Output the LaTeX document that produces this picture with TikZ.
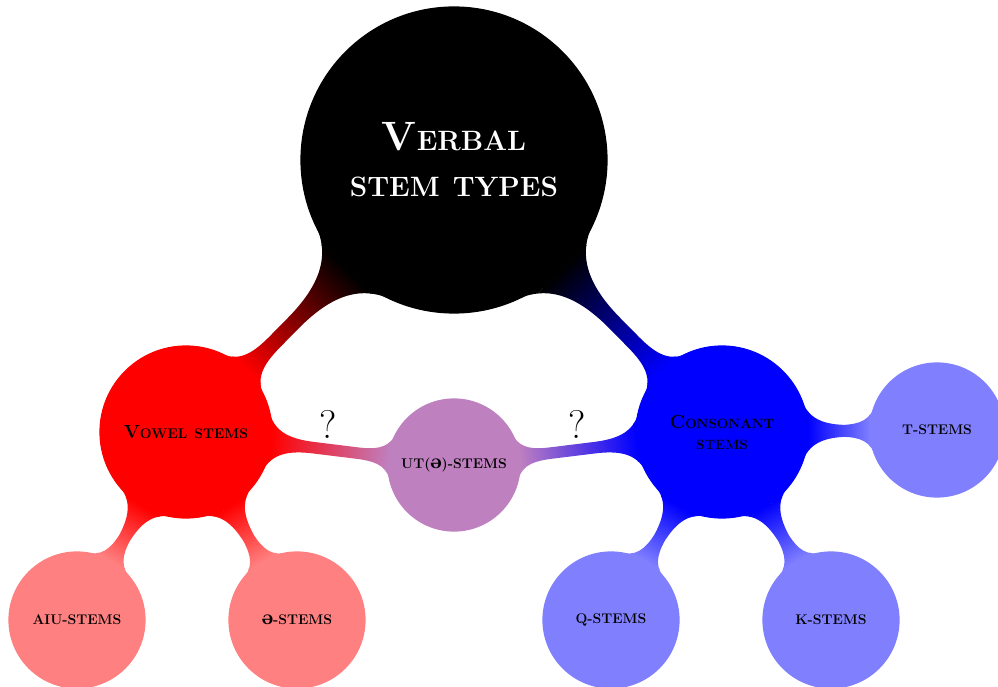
\documentclass[tikz,border=0pt]{standalone}
\usepackage{fontspec}
\usetikzlibrary{mindmap}
\newfontfamily\schwafont{DejaVu Serif}
\newcommand\fsz[2]{\fontsize{#1}{#2}\selectfont}
\begin{document}
\begin{tikzpicture}[x=1pt,y=1pt,mindmap,
  cpt/.style={concept, circle, inner sep=0pt, align=center, text=black},
  big/.style={cpt, minimum size=172, text width=150, font=\bfseries\fsz{13.5}{21}},
  small/.style={cpt, minimum size=136, text width=124, font=\bfseries\fsz{14}{16}},
  qmark/.style={font=\fsz{40}{40}, text=black, anchor=base, inner sep=0pt}]
\useasboundingbox (0,0) rectangle (998,686);
\node[cpt, concept color=black, text=white, minimum size=306, text width=270,
      font=\bfseries\fsz{28}{46}] (root) at (454,526)
  {{\fsz{41}{46}V}ERBAL\\STEM\hspace{13pt}TYPES};
\node[big, concept color=red, font=\bfseries\fsz{14}{21}] (vowel) at (186,254) {{\fsz{19}{21}V}OWEL\hspace{7pt}STEMS};
\node[big, concept color=blue] (cons) at (722,254) {{\fsz{19}{21}C}ONSONANT\\STEMS};
\node[small, concept color=red!50!blue!50, minimum size=132] (ut) at (454,221) {UT({\schwafont\fsz{13}{16}Ə})-STEMS};
\node[small, concept color=blue!50, minimum size=134] (t) at (937,256) {T-STEMS};
\node[small, concept color=red!50] (aiu) at (77,66) {AIU-STEMS};
\node[small, concept color=red!50] (schwa) at (297,66) {{\schwafont\fsz{13}{16}Ə}-STEMS};
\node[small, concept color=blue!50] (q) at (611,66) {Q-STEMS};
\node[small, concept color=blue!50] (k) at (831,66) {K-STEMS};
\path (root) to[circle connection bar switch color=from (black) to (red)] (vowel);
\path (root) to[circle connection bar switch color=from (black) to (blue)] (cons);
\path (vowel) to[circle connection bar switch color=from (red) to (red!50)] (aiu);
\path (vowel) to[circle connection bar switch color=from (red) to (red!50)] (schwa);
\path (cons) to[circle connection bar switch color=from (blue) to (blue!50)] (q);
\path (cons) to[circle connection bar switch color=from (blue) to (blue!50)] (k);
\path (cons) to[circle connection bar switch color=from (blue) to (blue!50)] (t);
\path (vowel) to[circle connection bar switch color=from (red) to (red!50!blue!50)] (ut);
\path (cons) to[circle connection bar switch color=from (blue) to (red!50!blue!50)] (ut);
\node[qmark] (q1) at (328,248) {?};
\node[qmark] (q2) at (577,248) {?};
\end{tikzpicture}
\end{document}
